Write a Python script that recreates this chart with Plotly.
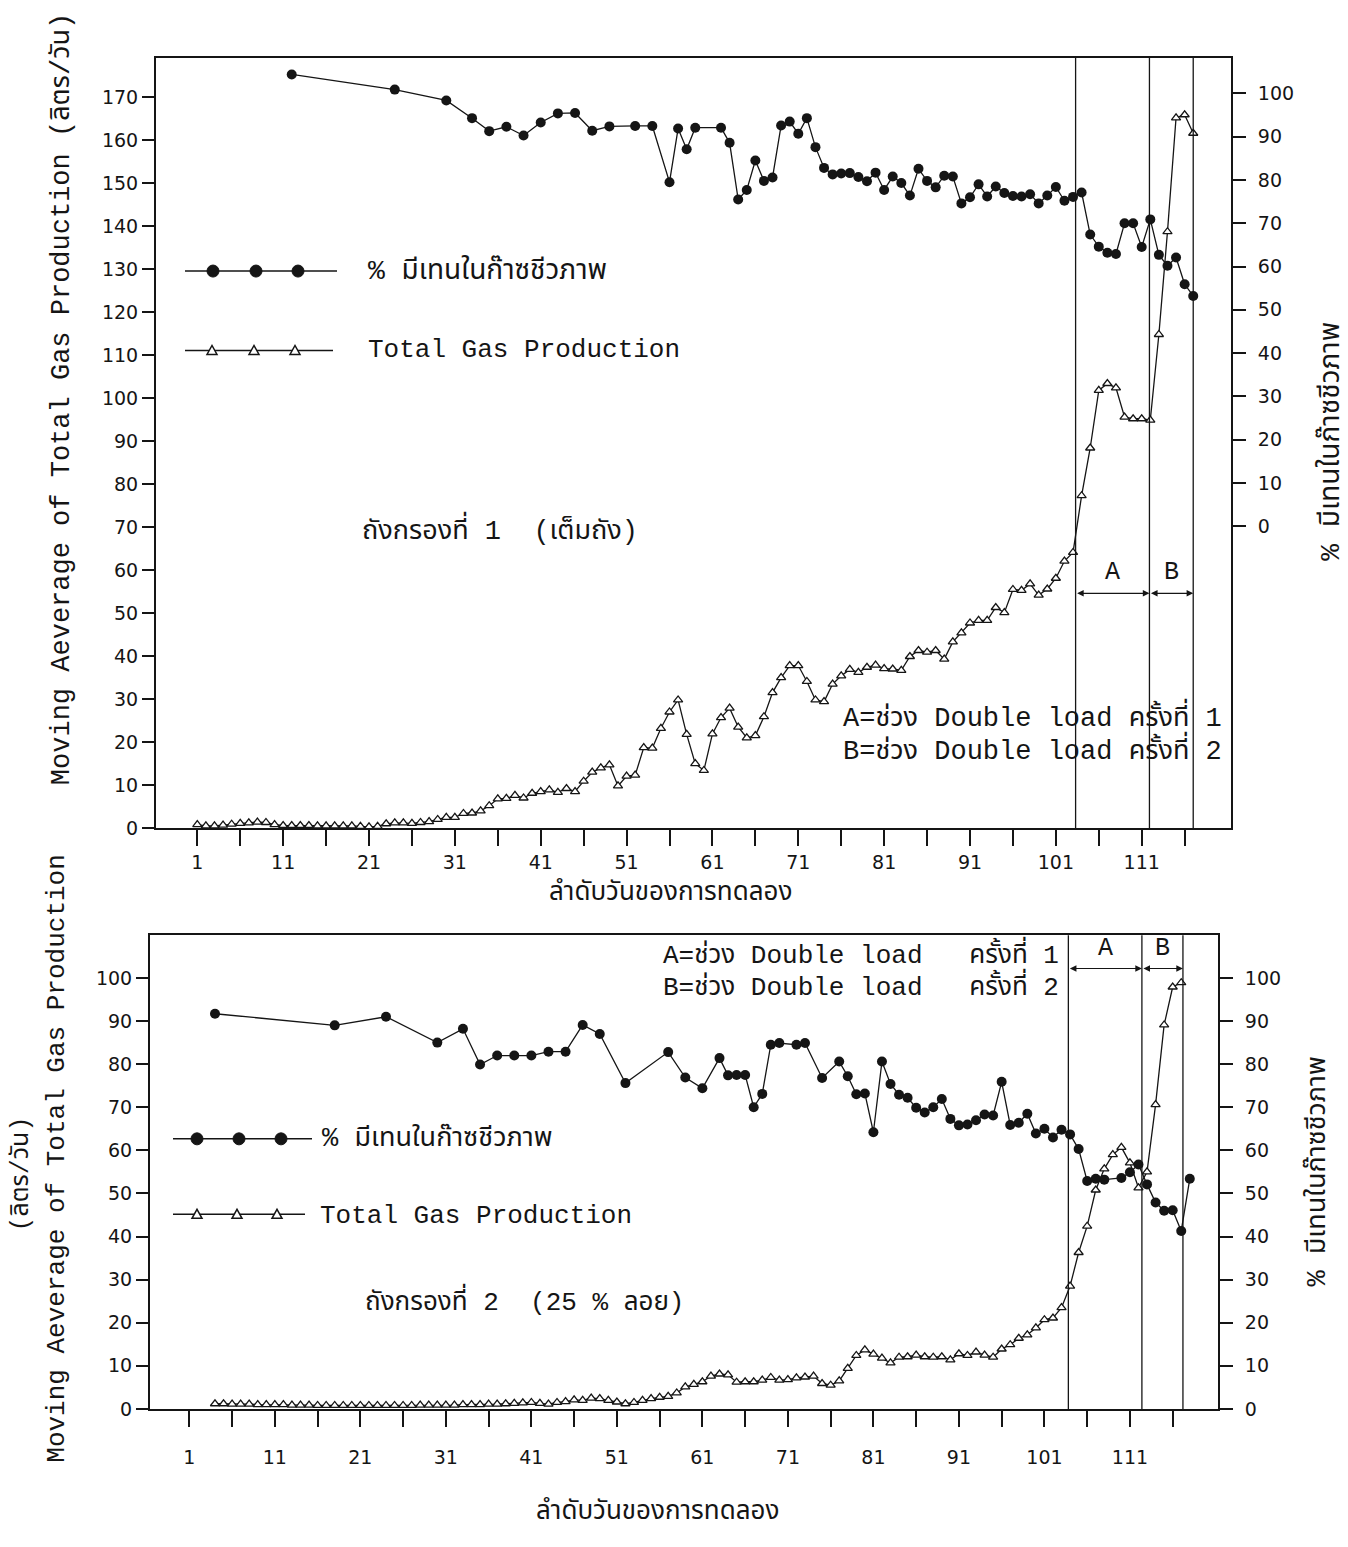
import plotly.graph_objects as go

# ---------------- data ----------------
# Panel 1 : ถังกรองที่ 1 (เต็มถัง)
top_gas_days = list(range(1, 118))
top_gas = [0.8, 0.5, 0.5, 0.7, 0.9, 1.1, 1.2, 1.4, 1.3, 0.8,
           0.6, 0.6, 0.6, 0.6, 0.5, 0.5, 0.5, 0.5, 0.5, 0.4,
           0.3, 0.4, 1.0, 1.2, 1.2, 1.1, 1.3, 1.5, 2.0, 2.5,
           2.5, 3.4, 3.5, 4.0, 5.2, 6.8, 6.9, 7.6, 7.0, 8.1,
           8.5, 8.9, 8.3, 9.2, 8.5, 10.9, 13.0, 14.0, 14.7, 9.8,
           12.1, 12.3, 18.7, 18.6, 23.2, 27.0, 29.8, 21.8, 15.0, 13.4,
           21.9, 25.7, 27.9, 23.5, 21.0, 21.5, 25.9, 31.5, 35.0, 37.8,
           37.8, 34.1, 29.8, 29.4, 33.5, 35.4, 36.9, 36.2, 37.4, 37.9,
           37.1, 37.0, 36.7, 39.9, 41.3, 40.9, 41.3, 39.3, 43.3, 45.4,
           47.7, 48.3, 48.3, 51.3, 50.1, 55.5, 55.3, 56.8, 54.2, 55.6,
           58.1, 62.1, 64.1, 77.3, 88.4, 101.8, 103.4, 102.4, 95.6, 95.2,
           95.2, 94.9, 114.8, 138.7, 165.2, 165.9, 161.6]

top_ch4_days = [12, 24, 30, 33, 35, 37, 39, 41, 43, 45, 47, 49, 52, 54, 56, 57, 58, 59,
                62, 63, 64, 65, 66, 67, 68, 69, 70, 71, 72, 73, 74, 75, 76, 77, 78, 79,
                80, 81, 82, 83, 84, 85, 86, 87, 88, 89, 90, 91, 92, 93, 94, 95, 96, 97,
                98, 99, 100, 101, 102, 103, 104, 105, 106, 107, 108, 109, 110, 111, 112,
                113, 114, 115, 116, 117]
top_ch4 = [104.4, 100.9, 98.4, 94.3, 91.3, 92.3, 90.3, 93.3, 95.4, 95.5, 91.4, 92.4,
           92.5, 92.5, 79.5, 91.9, 87.1, 92.1,
           92.1, 88.6, 75.5, 77.7, 84.5, 79.8, 80.6, 92.6, 93.5, 90.7, 94.3, 87.6,
           82.8, 81.3, 81.5, 81.6, 80.7, 79.7,
           81.7, 77.7, 80.8, 79.3, 76.4, 82.6, 79.8, 78.3, 81.0, 80.8, 74.6, 76.0,
           79.0, 76.2, 78.5, 77.0, 76.3, 76.2,
           76.7, 74.6, 76.4, 78.4, 75.2, 76.1, 77.1, 67.4, 64.6, 63.2, 62.9, 70.0,
           70.0, 64.5, 70.9,
           62.7, 60.2, 62.1, 55.9, 53.2]

# Panel 2 : ถังกรองที่ 2 (25 % ลอย)
bot_gas_days = list(range(4, 118))
bot_gas = [1.2, 1.2, 1.1, 1.1, 1.1, 1.0, 1.0, 1.0, 1.0, 0.9,
           0.9, 0.9, 0.8, 0.8, 0.8, 0.8, 0.8, 0.8, 0.8, 0.8,
           0.8, 0.8, 0.8, 0.8, 0.9, 0.9, 0.9, 0.9, 0.9, 1.0,
           1.0, 1.0, 1.1, 1.1, 1.2, 1.3, 1.4, 1.5, 1.3,
           1.1, 1.5, 1.7, 2.1, 2.0, 2.5, 2.4, 2.0, 1.6, 1.2,
           1.5, 2.0, 2.4, 2.7, 2.9, 3.7, 5.1, 5.7, 6.3, 7.6,
           8.1, 7.9, 6.2, 6.3, 6.3, 6.7, 7.3, 6.7, 6.8, 7.2,
           7.4, 7.6, 5.9, 5.5, 6.5, 9.4, 12.4, 13.7, 12.7, 11.8,
           10.7, 12.0, 12.1, 12.5, 12.1, 12.0, 12.1, 11.4, 12.8, 12.4,
           13.2, 12.5, 12.0, 13.9, 14.9, 16.4, 17.2, 18.8, 20.7, 21.1,
           23.5, 28.5, 36.3, 42.4, 50.8, 55.7, 59.0, 60.7, 57.1, 51.3,
           55.0, 70.6, 89.1, 97.9, 98.9]

bot_ch4_days = [4, 18, 24, 30, 33, 35, 37, 39, 41, 43, 45, 47, 49, 52, 57, 59, 61, 63,
                64, 65, 66, 67, 68, 69, 70, 72, 73, 75, 77, 78, 79, 80, 81, 82, 83, 84,
                85, 86, 87, 88, 89, 90, 91, 92, 93, 94, 95, 96, 97, 98, 99, 100, 101,
                102, 103, 104, 105, 106, 107, 108, 110, 111, 112, 113, 114, 115, 116,
                117, 118]
bot_ch4 = [91.7, 89.0, 91.0, 85.0, 88.2, 79.9, 82.0, 82.0, 82.0, 82.9, 82.9, 89.1,
           87.0, 75.6, 82.8, 76.9, 74.4, 81.4,
           77.4, 77.5, 77.5, 70.0, 73.1, 84.5, 84.9, 84.5, 84.9, 76.8, 80.6, 77.2,
           73.0, 73.2, 64.2, 80.6, 75.4, 72.9,
           72.2, 69.9, 68.8, 70.0, 71.9, 67.3, 65.8, 66.0, 67.0, 68.3, 68.1, 75.9,
           65.9, 66.4, 68.5, 63.9, 65.0,
           63.0, 64.8, 63.7, 60.3, 52.9, 53.4, 53.2, 53.6, 54.9, 56.7, 52.1, 47.9,
           46.0, 46.1, 41.3, 53.4]

# Double-load period boundaries (days)
top_period_bounds = [103.3, 111.9, 117.0]
bot_period_bounds = [103.8, 112.4, 117.2]
period_labels = ["A", "B"]

x_tick_days = list(range(1, 117, 5))
x_tick_text = [str(d) if (d - 1) % 10 == 0 else "" for d in x_tick_days]
top_left_ticks = list(range(0, 171, 10))
bot_left_ticks = list(range(0, 101, 10))
right_ticks = list(range(0, 101, 10))

# ---------------- styling ----------------
W, H = 1348, 1547
INK = "#151515"
MONO = "Liberation Mono, Courier New, Noto Sans Thai, Loma, Garuda, Norasi, DejaVu Sans Mono, monospace"
THAI = "Noto Sans Thai, Loma, Garuda, Norasi, Kinnari, Liberation Mono, DejaVu Sans, sans-serif"
TICKF = dict(family="DejaVu Sans, Liberation Sans, sans-serif", size=19, color=INK)


def fx(p):
    return p / W


def fy(p):
    return 1 - p / H


fig = go.Figure()

ch4_style = dict(mode="lines+markers", line=dict(color=INK, width=1.3),
                 marker=dict(symbol="circle", size=10, color=INK), showlegend=False)
gas_style = dict(mode="lines+markers", line=dict(color=INK, width=1.3),
                 marker=dict(symbol="triangle-up", size=8, color="white",
                             line=dict(color=INK, width=1.3)), showlegend=False)

fig.add_trace(go.Scatter(x=top_gas_days, y=top_gas, xaxis="x", yaxis="y", **gas_style))
fig.add_trace(go.Scatter(x=top_ch4_days, y=top_ch4, xaxis="x", yaxis="y2", **ch4_style))
fig.add_trace(go.Scatter(x=bot_gas_days, y=bot_gas, xaxis="x2", yaxis="y3", **gas_style))
fig.add_trace(go.Scatter(x=bot_ch4_days, y=bot_ch4, xaxis="x2", yaxis="y4", **ch4_style))

axis_common = dict(showgrid=False, zeroline=False, showline=True, linecolor=INK,
                   linewidth=2, ticks="outside", tickcolor=INK, tickwidth=2,
                   tickfont=TICKF)

fig.update_layout(
    width=W, height=H, margin=dict(l=0, r=0, t=0, b=0),
    paper_bgcolor="white", plot_bgcolor="white",
    xaxis=dict(domain=[fx(156), fx(1231)], range=[-3.81, 121.4], anchor="y",
               tickvals=x_tick_days, ticktext=x_tick_text, ticklen=16, mirror=True,
               **axis_common),
    yaxis=dict(domain=[fy(834), fy(58)], range=[0, 179.2], anchor="x",
               tickvals=top_left_ticks, ticklen=12, mirror=True, **axis_common),
    yaxis2=dict(overlaying="y", side="right", anchor="x", range=[-69.8, 108.3],
                tickvals=right_ticks, ticklen=14, showgrid=False, zeroline=False,
                showline=False, ticks="outside", tickcolor=INK, tickwidth=2,
                ticklabelstandoff=8, tickfont=TICKF),
    xaxis2=dict(domain=[fx(150), fx(1218)], range=[-3.6, 121.3], anchor="y3",
                tickvals=x_tick_days, ticktext=x_tick_text, ticklen=16, mirror=True,
                ticklabelstandoff=14, **axis_common),
    yaxis3=dict(domain=[fy(1419), fy(942)], range=[0, 109.9], anchor="x2",
                tickvals=bot_left_ticks, ticklen=12, mirror=True, **axis_common),
    yaxis4=dict(overlaying="y3", side="right", anchor="x2", range=[0, 109.9],
                tickvals=right_ticks, ticklen=14, showgrid=False, zeroline=False,
                showline=False, ticks="outside", tickcolor=INK, tickwidth=2,
                ticklabelstandoff=8, tickfont=TICKF),
)

shapes = []
annotations = []

# period boundary lines, arrows and labels
for bounds, xr, yr, arrow_y, label_y in [
        (top_period_bounds, "x", "y", 54.6, 59.5),
        (bot_period_bounds, "x2", "y3", 102.2, 106.8)]:
    for b in bounds:
        shapes.append(dict(type="line", xref=xr, yref=yr + " domain", x0=b, x1=b,
                           y0=0, y1=1, line=dict(color=INK, width=1.3)))
    for i, lab in enumerate(period_labels):
        a0, a1 = bounds[i], bounds[i + 1]
        annotations.append(dict(xref=xr, yref=yr, x=a1, y=arrow_y, ax=a0, ay=arrow_y,
                                axref=xr, ayref=yr, showarrow=True, text="",
                                arrowside="end+start", arrowhead=2, arrowsize=1.1,
                                arrowwidth=1.2, arrowcolor=INK))
        annotations.append(dict(xref=xr, yref=yr, x=(a0 + a1) / 2, y=label_y,
                                text=lab, showarrow=False,
                                font=dict(family=MONO, size=25, color=INK)))


# legend keys (drawn as decorations in paper space)
def legend_key(y, x_start, x_end, xs, kind):
    shapes.append(dict(type="line", xref="paper", yref="paper", x0=fx(x_start),
                       x1=fx(x_end), y0=fy(y), y1=fy(y), line=dict(color=INK, width=1.5)))
    for xc in xs:
        if kind == "circle":
            shapes.append(dict(type="circle", xref="paper", yref="paper",
                               xsizemode="pixel", ysizemode="pixel",
                               xanchor=fx(xc), yanchor=fy(y), x0=-6, x1=6, y0=-6, y1=6,
                               fillcolor=INK, line=dict(color=INK, width=1)))
        else:
            shapes.append(dict(type="path", xref="paper", yref="paper",
                               xsizemode="pixel", ysizemode="pixel",
                               xanchor=fx(xc), yanchor=fy(y),
                               path="M -5,-4 L 5,-4 L 0,5 Z",
                               fillcolor="white", line=dict(color=INK, width=1.5)))


legend_key(273, 185, 337, [213, 256, 298], "circle")
legend_key(353, 185, 333, [212, 254, 295], "tri")
legend_key(1147, 173, 312, [197, 239, 281], "circle")
legend_key(1223, 173, 305, [197, 237, 277], "tri")


def txt(text, x, y, size=25, anchor="left", angle=0, family=MONO):
    annotations.append(dict(xref="paper", yref="paper", x=fx(x), y=fy(y), text=text,
                            showarrow=False, xanchor=anchor, yanchor="middle",
                            textangle=angle, font=dict(family=family, size=size, color=INK)))


# panel 1 texts
txt("% มีเทนในก๊าซชีวภาพ", 366, 273, 28)
txt("Total Gas Production", 366, 353, 26)
txt("ถังกรองที่ 1  (เต็มถัง)", 360, 533, 27)
txt("A=ช่วง Double load ครั้งที่ 1", 841, 721, 27)
txt("B=ช่วง Double load ครั้งที่ 2", 841, 754, 27)
txt("Moving Aeverage of Total Gas Production (ลิตร/วัน)", 62, 402, 27,
    anchor="center", angle=-90)
txt("% มีเทนในก๊าซชีวภาพ", 1331, 445, 28, anchor="center", angle=-90)
txt("ลำดับวันของการทดลอง", 670, 898, 26, anchor="center", family=THAI)

# panel 2 texts
txt("A=ช่วง Double load   ครั้งที่ 1", 661, 960, 26)
txt("B=ช่วง Double load   ครั้งที่ 2", 661, 993, 26)
txt("% มีเทนในก๊าซชีวภาพ", 320, 1147, 27)
txt("Total Gas Production", 318, 1225, 26)
txt("ถังกรองที่ 2  (25 % ลอย)", 363, 1310, 26)
txt("Moving Aeverage of Total Gas Production", 57, 1167, 26, anchor="center", angle=-90)
txt("(ลิตร/วัน)", 22, 1183, 25, anchor="center", angle=-90)
txt("% มีเทนในก๊าซชีวภาพ", 1318, 1180, 27, anchor="center", angle=-90)
txt("ลำดับวันของการทดลอง", 657, 1522, 26, anchor="center", family=THAI)

fig.update_layout(shapes=shapes, annotations=annotations)
fig.write_html("out.html")
